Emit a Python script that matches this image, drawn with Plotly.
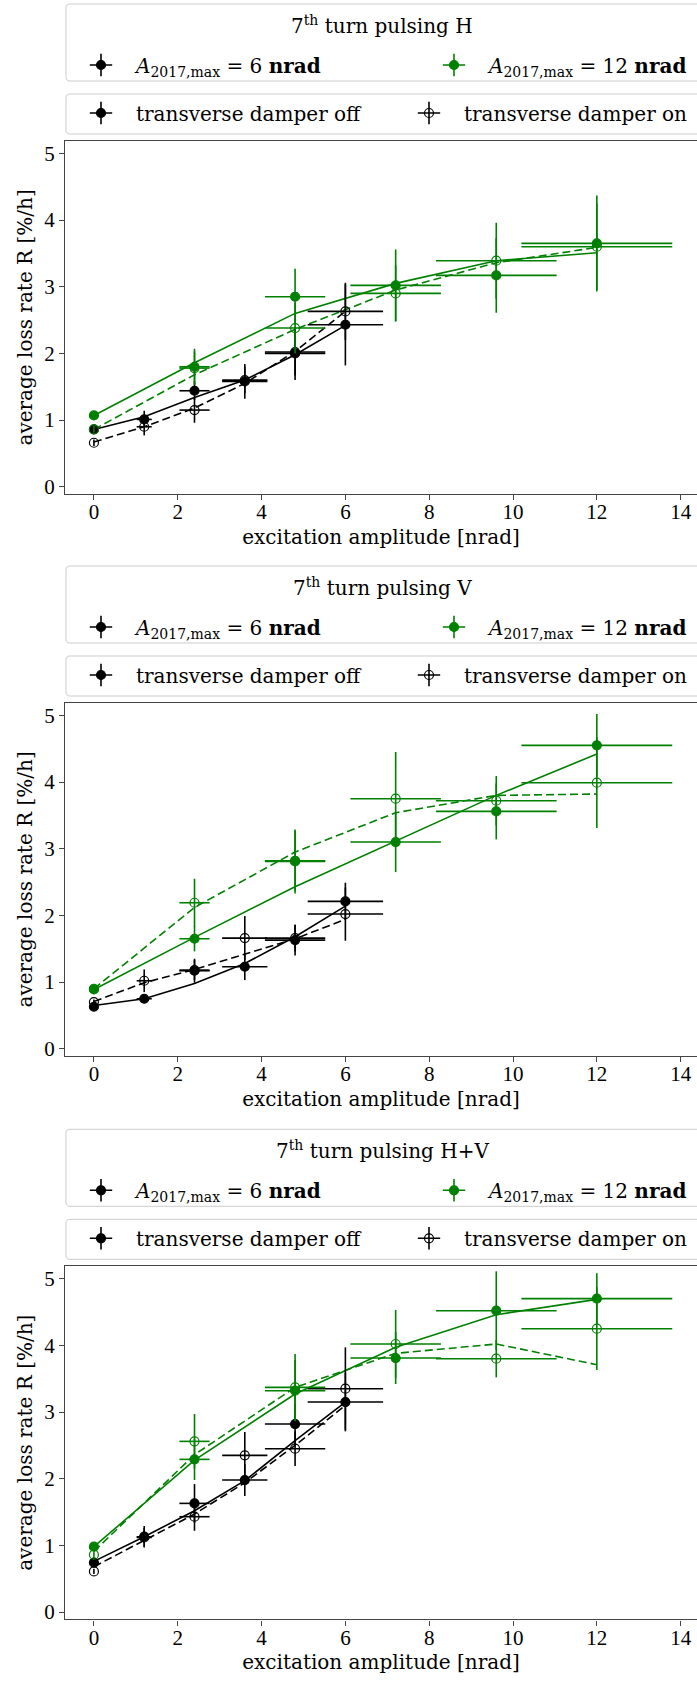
import plotly.graph_objects as go

W, H = 697, 1681
ML = 65  # left margin in px

# ---------------- data ----------------
x_6 = [0.0, 1.2, 2.4, 3.6, 4.8, 6.0]
xerr_6 = [0.0, 0.18, 0.36, 0.54, 0.72, 0.90]
x_12 = [0.0, 2.4, 4.8, 7.2, 9.6, 12.0]
xerr_12 = [0.0, 0.36, 0.72, 1.08, 1.44, 1.80]

# 7th turn pulsing H
H_off_6 = [0.86, 1.01, 1.44, 1.58, 2.00, 2.43]
H_off_6_err = [0.06, 0.13, 0.14, 0.26, 0.40, 0.61]
H_on_6 = [0.66, 0.90, 1.15, 1.60, 2.02, 2.63]
H_on_6_err = [0.05, 0.13, 0.19, 0.20, 0.35, 0.43]
H_off_12 = [1.07, 1.80, 2.85, 3.02, 3.17, 3.65]
H_off_12_err = [0.06, 0.27, 0.42, 0.54, 0.56, 0.72]
H_on_12 = [0.86, 1.78, 2.38, 2.90, 3.39, 3.60]
H_on_12_err = [0.05, 0.25, 0.38, 0.42, 0.57, 0.65]
H_fit_off_6 = [0.86, 1.05, 1.34, 1.60, 1.98, 2.42]
H_fit_on_6 = [0.67, 0.90, 1.18, 1.55, 2.03, 2.63]
H_fit_off_12 = [1.07, 1.86, 2.60, 3.05, 3.39, 3.51]
H_fit_on_12 = [0.86, 1.68, 2.36, 2.95, 3.36, 3.59]

# 7th turn pulsing V
V_off_6 = [0.63, 0.75, 1.17, 1.23, 1.63, 2.21]
V_off_6_err = [0.04, 0.06, 0.18, 0.20, 0.23, 0.28]
V_on_6 = [0.70, 1.02, 1.18, 1.66, 1.66, 2.02]
V_on_6_err = [0.04, 0.17, 0.15, 0.33, 0.20, 0.40]
V_off_12 = [0.89, 1.65, 2.81, 3.10, 3.56, 4.55]
V_off_12_err = [0.05, 0.19, 0.48, 0.45, 0.42, 0.47]
V_on_12 = [0.90, 2.19, 2.82, 3.75, 3.72, 3.99]
V_on_12_err = [0.05, 0.36, 0.45, 0.70, 0.37, 0.68]
V_fit_off_6 = [0.65, 0.75, 0.98, 1.28, 1.68, 2.14]
V_fit_on_6 = [0.71, 0.99, 1.19, 1.42, 1.65, 1.94]
V_fit_off_12 = [0.89, 1.67, 2.43, 3.12, 3.80, 4.42]
V_fit_on_12 = [0.90, 2.12, 2.95, 3.54, 3.80, 3.82]

# 7th turn pulsing H+V
HV_off_6 = [0.74, 1.13, 1.63, 1.98, 2.82, 3.15]
HV_off_6_err = [0.05, 0.16, 0.29, 0.24, 0.30, 0.44]
HV_on_6 = [0.61, 1.12, 1.43, 2.35, 2.45, 3.35]
HV_on_6_err = [0.04, 0.14, 0.21, 0.35, 0.26, 0.62]
HV_off_12 = [0.98, 2.29, 3.32, 3.81, 4.52, 4.70]
HV_off_12_err = [0.06, 0.31, 0.46, 0.39, 0.59, 0.38]
HV_on_12 = [0.86, 2.56, 3.37, 4.02, 3.80, 4.25]
HV_on_12_err = [0.05, 0.41, 0.50, 0.51, 0.28, 0.62]
HV_fit_off_6 = [0.76, 1.13, 1.52, 1.97, 2.57, 3.15]
HV_fit_on_6 = [0.68, 1.07, 1.47, 1.94, 2.50, 3.10]
HV_fit_off_12 = [0.98, 2.28, 3.27, 3.97, 4.46, 4.69]
HV_fit_on_12 = [0.91, 2.36, 3.37, 3.88, 4.02, 3.71]

panel_titles = ["7<sup>th</sup> turn pulsing H", "7<sup>th</sup> turn pulsing V",
                "7<sup>th</sup> turn pulsing H+V"]
legend_amp = ["<i>A</i><sub>2017,max</sub> = 6 <b>nrad</b>",
              "<i>A</i><sub>2017,max</sub> = 12 <b>nrad</b>"]
legend_damper = ["transverse damper off", "transverse damper on"]
x_label = "excitation amplitude [nrad]"
y_label = "average loss rate R [%/h]"
x_ticks = [0, 2, 4, 6, 8, 10, 12, 14]
y_ticks = [0, 1, 2, 3, 4, 5]

panels = [
    dict(off6=H_off_6, off6e=H_off_6_err, on6=H_on_6, on6e=H_on_6_err,
         off12=H_off_12, off12e=H_off_12_err, on12=H_on_12, on12e=H_on_12_err,
         f_off6=H_fit_off_6, f_on6=H_fit_on_6, f_off12=H_fit_off_12, f_on12=H_fit_on_12),
    dict(off6=V_off_6, off6e=V_off_6_err, on6=V_on_6, on6e=V_on_6_err,
         off12=V_off_12, off12e=V_off_12_err, on12=V_on_12, on12e=V_on_12_err,
         f_off6=V_fit_off_6, f_on6=V_fit_on_6, f_off12=V_fit_off_12, f_on12=V_fit_on_12),
    dict(off6=HV_off_6, off6e=HV_off_6_err, on6=HV_on_6, on6e=HV_on_6_err,
         off12=HV_off_12, off12e=HV_off_12_err, on12=HV_on_12, on12e=HV_on_12_err,
         f_off6=HV_fit_off_6, f_on6=HV_fit_on_6, f_off12=HV_fit_off_12, f_on12=HV_fit_on_12),
]

# ---------------- styling / layout ----------------
BLACK = "#000000"
GREEN = "#008000"
TXT_FONT = "DejaVu Serif"
TICK_FONT = "Liberation Serif"
plot_tops = [140.7, 702.7, 1266.0]
PLOT_H = 353.4
MS = 9
EW = 1.6
LW = 1.6


def xp(px):
    return (px - ML) / (W - ML)


def yp(py):
    return 1 - py / H


def rrect(x0, y0, x1, y1, r=4):
    pts = [("M", x0 + r, y0), ("L", x1 - r, y0), ("Q", x1, y0, x1, y0 + r),
           ("L", x1, y1 - r), ("Q", x1, y1, x1 - r, y1), ("L", x0 + r, y1),
           ("Q", x0, y1, x0, y1 - r), ("L", x0, y0 + r), ("Q", x0, y0, x0 + r, y0)]
    s = ""
    for p in pts:
        if p[0] == "Q":
            s += "Q%.5f,%.5f %.5f,%.5f " % (xp(p[1]), yp(p[2]), xp(p[3]), yp(p[4]))
        else:
            s += "%s%.5f,%.5f " % (p[0], xp(p[1]), yp(p[2]))
    return s + "Z"


fig = go.Figure()
layout = {}
shapes = []
annotations = []

for i, pd_ in enumerate(panels):
    sfx = "" if i == 0 else str(i + 1)
    xa, ya = "x" + sfx, "y" + sfx
    top = plot_tops[i]
    bot = top + PLOT_H

    # fit lines
    for xs, ys, col, dash in [(x_6, pd_["f_off6"], BLACK, "solid"),
                              (x_6, pd_["f_on6"], BLACK, "8px,4px"),
                              (x_12, pd_["f_off12"], GREEN, "solid"),
                              (x_12, pd_["f_on12"], GREEN, "8px,4px")]:
        fig.add_trace(go.Scatter(x=xs, y=ys, mode="lines", xaxis=xa, yaxis=ya,
                                 line=dict(color=col, width=LW, dash=dash),
                                 showlegend=False, hoverinfo="skip"))
    # data with error bars
    for xs, xe, ys, ye, col, sym in [
            (x_6, xerr_6, pd_["off6"], pd_["off6e"], BLACK, "circle"),
            (x_6, xerr_6, pd_["on6"], pd_["on6e"], BLACK, "circle-open"),
            (x_12, xerr_12, pd_["off12"], pd_["off12e"], GREEN, "circle"),
            (x_12, xerr_12, pd_["on12"], pd_["on12e"], GREEN, "circle-open")]:
        fig.add_trace(go.Scatter(
            x=xs, y=ys, mode="markers", xaxis=xa, yaxis=ya, showlegend=False,
            marker=dict(symbol=sym, size=MS, color=col, line=dict(color=col, width=1.2)),
            error_x=dict(type="data", array=xe, visible=True, color=col, thickness=EW, width=0),
            error_y=dict(type="data", array=ye, visible=True, color=col, thickness=EW, width=0)))

    # legend entries (cross symbol legend + dot overlay legend)
    ids = [4 * i + k for k in range(1, 5)]
    names_ = ["legend" if n == 1 else "legend%d" % n for n in ids]
    rowA = top - 75.7
    rowB = top - 27.7
    entries = [
        (names_[0], names_[1], rowA,
         [(legend_amp[0], BLACK, "circle", 278), (legend_amp[1], GREEN, "circle", 204)]),
        (names_[2], names_[3], rowB,
         [(legend_damper[0], BLACK, "circle", 253), (legend_damper[1], BLACK, "circle-open", 228)]),
    ]
    for lg_main, lg_over, rowy, items in entries:
        for name, col, sym, lw in items:
            fig.add_trace(go.Scatter(
                x=[None], y=[None], mode="markers", xaxis=xa, yaxis=ya, name=name,
                legend=lg_main, legendwidth=lw, showlegend=True, hoverinfo="skip",
                marker=dict(symbol="cross-thin-open", size=16, color=col,
                            line=dict(color=col, width=1.6))))
        for name, col, sym, lw in items:
            fig.add_trace(go.Scatter(
                x=[None], y=[None], mode="markers", xaxis=xa, yaxis=ya, name=" ",
                legend=lg_over, legendwidth=lw, showlegend=True, hoverinfo="skip",
                marker=dict(symbol=sym, size=MS, color=col, line=dict(color=col, width=1.2))))
        for lg in (lg_main, lg_over):
            layout[lg] = dict(
                orientation="h", x=xp(66), xanchor="left", y=yp(rowy), yanchor="middle",
                bgcolor="rgba(0,0,0,0)", borderwidth=0, itemwidth=60,
                font=dict(family=TXT_FONT, size=20, color="black"),
                itemclick=False, itemdoubleclick=False, traceorder="normal")

    # legend frames
    shapes.append(dict(type="path", xref="paper", yref="paper", layer="below",
                       path=rrect(66, top - 136.7, 712, top - 59.7),
                       line=dict(color="#cccccc", width=1), fillcolor="white"))
    shapes.append(dict(type="path", xref="paper", yref="paper", layer="below",
                       path=rrect(66, top - 46.7, 712, top - 6.7),
                       line=dict(color="#cccccc", width=1), fillcolor="white"))
    annotations.append(dict(xref="paper", yref="paper", x=xp(382), y=yp(top - 115.7),
                            xanchor="center", yanchor="middle", showarrow=False,
                            text=panel_titles[i],
                            font=dict(family=TXT_FONT, size=20, color="black")))

    axis_common = dict(showline=True, linecolor="#444444", linewidth=1.2, ticks="outside",
                       ticklen=5, tickwidth=1.1, tickcolor="#444444", showgrid=False,
                       zeroline=False,
                       tickfont=dict(family=TICK_FONT, size=21, color="black"))
    layout["xaxis" + sfx] = dict(
        axis_common, anchor=ya, domain=[0, 1], range=[-0.69, 14.39],
        tickvals=x_ticks, ticktext=[str(t) for t in x_ticks], mirror=True,
        ticklabelstandoff=-6,
        title=dict(text=x_label, standoff=6, font=dict(family=TXT_FONT, size=20, color="black")))
    layout["yaxis" + sfx] = dict(
        axis_common, anchor=xa, domain=[yp(bot), yp(top)], range=[-0.11, 5.19],
        tickvals=y_ticks, ticktext=[str(t) for t in y_ticks], mirror=False,
        ticklabelstandoff=0,
        title=dict(text=y_label, standoff=6, font=dict(family=TXT_FONT, size=20, color="black")))

fig.update_layout(
    width=W, height=H, margin=dict(l=ML, r=0, t=0, b=0, autoexpand=False),
    paper_bgcolor="white", plot_bgcolor="white", showlegend=True,
    shapes=shapes, annotations=annotations, **layout)

fig.write_html("out.html", config={"displayModeBar": False},
               post_script="document.body.style.margin='0px';"
                           "document.body.style.overflow='hidden';")
